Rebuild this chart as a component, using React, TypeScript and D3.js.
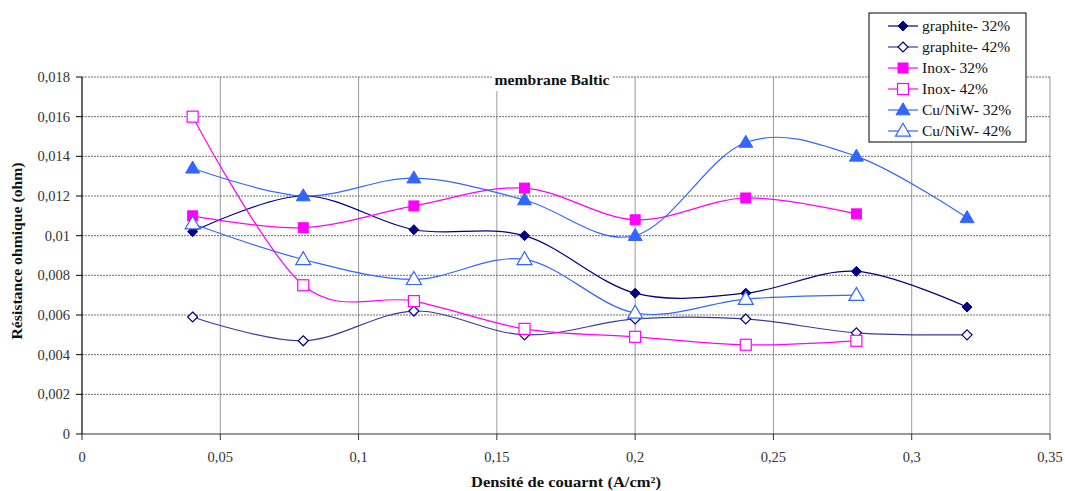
import React from 'react';
import * as d3 from 'd3';

const densities = [0.04, 0.08, 0.12, 0.16, 0.2, 0.24, 0.28, 0.32];
const graphite32 = [0.0102, 0.012, 0.0103, 0.01, 0.0071, 0.0071, 0.0082, 0.0064];
const graphite42 = [0.0059, 0.0047, 0.0062, 0.005, 0.0058, 0.0058, 0.0051, 0.005];
const inox32 = [0.011, 0.0104, 0.0115, 0.0124, 0.0108, 0.0119, 0.0111];
const inox42 = [0.016, 0.0075, 0.0067, 0.0053, 0.0049, 0.0045, 0.0047];
const cu32 = [0.0134, 0.012, 0.0129, 0.0118, 0.01, 0.0147, 0.014, 0.0109];
const cu42 = [0.0106, 0.0088, 0.0078, 0.0088, 0.0061, 0.0068, 0.007];

const seriesNames = ['graphite- 32%', 'graphite- 42%', 'Inox- 32%', 'Inox- 42%', 'Cu/NiW- 32%', 'Cu/NiW- 42%'];
const xTicks = [0, 0.05, 0.1, 0.15, 0.2, 0.25, 0.3, 0.35];
const yTicks = [0, 0.002, 0.004, 0.006, 0.008, 0.01, 0.012, 0.014, 0.016, 0.018];

const chartTitle = 'membrane Baltic';
const xTitle = 'Densité de couarnt (A/cm²)';
const yTitle = 'Résistance ohmique (ohm)';

type MarkerType = 'diamond' | 'square' | 'triangle';
interface Series {
  name: string;
  values: number[];
  line: string;
  color: string;
  marker: MarkerType;
  filled: boolean;
}

const series: Series[] = [
  { name: seriesNames[0], values: graphite32, line: '#000080', color: '#000080', marker: 'diamond', filled: true },
  { name: seriesNames[1], values: graphite42, line: '#3a3a9a', color: '#000080', marker: 'diamond', filled: false },
  { name: seriesNames[2], values: inox32, line: '#ff00ff', color: '#ff00ff', marker: 'square', filled: true },
  { name: seriesNames[3], values: inox42, line: '#ff00ff', color: '#ff00ff', marker: 'square', filled: false },
  { name: seriesNames[4], values: cu32, line: '#3366ff', color: '#3366ff', marker: 'triangle', filled: true },
  { name: seriesNames[5], values: cu42, line: '#3366ff', color: '#3366ff', marker: 'triangle', filled: false },
];

const fmt = (v: number) => String(+v.toFixed(3)).replace('.', ',');
const FONT = '"Liberation Serif", "Times New Roman", serif';

function Marker({ type, filled, color, cx, cy }: { type: MarkerType; filled: boolean; color: string; cx: number; cy: number }) {
  const fill = filled ? color : '#ffffff';
  const sw = filled ? 1 : 1.2;
  if (type === 'diamond') {
    const r = 5;
    const d = `M${cx},${cy - r}L${cx + r},${cy}L${cx},${cy + r}L${cx - r},${cy}Z`;
    return <path d={d} fill={fill} stroke={color} strokeWidth={sw} />;
  }
  if (type === 'square') {
    const h = filled ? 5 : 5.5;
    return <rect x={cx - h} y={cy - h} width={2 * h} height={2 * h} fill={fill} stroke={color} strokeWidth={sw} />;
  }
  const w = filled ? 7 : 7.5;
  const ht = filled ? 12 : 13;
  const d = `M${cx},${cy - ht * 0.6}L${cx + w},${cy + ht * 0.4}L${cx - w},${cy + ht * 0.4}Z`;
  return <path d={d} fill={fill} stroke={color} strokeWidth={sw} />;
}

export default function App() {
  const left = 82, right = 1050, top = 77, bottom = 434;
  const x = d3.scaleLinear().domain([0, 0.35]).range([left, right]);
  const y = d3.scaleLinear().domain([0, 0.018]).range([bottom, top]);
  const line = d3
    .line<[number, number]>()
    .x((d) => x(d[0]))
    .y((d) => y(d[1]))
    .curve(d3.curveCatmullRom.alpha(0));

  const legendX = 869, legendY = 13, legendW = 157, legendH = 129;
  const rowY = (i: number) => legendY + 13 + i * 21;
  const txt = { fontFamily: FONT };

  return (
    <svg width={1065} height={491} style={{ position: 'absolute', left: 0, top: 0, background: '#fff', fontFamily: FONT }}>
      <rect x={0} y={0} width={1065} height={491} fill="#ffffff" />
      {xTicks.slice(1).map((t) => (
        <line key={'vx' + t} x1={x(t)} x2={x(t)} y1={top} y2={bottom} stroke="#9a9a9a" strokeWidth={1} />
      ))}
      {yTicks.slice(1).map((t) => (
        <line key={'hy' + t} x1={left} x2={right} y1={y(t)} y2={y(t)} stroke="#6e6e6e" strokeWidth={1} strokeDasharray="2 1" />
      ))}
      <line x1={left} x2={left} y1={top} y2={bottom} stroke="#000" strokeWidth={1.2} />
      <line x1={left} x2={right} y1={bottom} y2={bottom} stroke="#333" strokeWidth={1.2} />
      {yTicks.map((t) => (
        <g key={'yt' + t}>
          <line x1={left - 6} x2={left} y1={y(t)} y2={y(t)} stroke="#000" />
          <text x={70} y={y(t) + 5} textAnchor="end" fontSize={14.5} fill="#333" style={txt}>
            {fmt(t)}
          </text>
        </g>
      ))}
      {xTicks.map((t) => (
        <g key={'xt' + t}>
          <line x1={x(t)} x2={x(t)} y1={bottom} y2={bottom + 6} stroke="#333" />
          <text x={x(t)} y={462} textAnchor="middle" fontSize={14.5} fill="#333" style={txt}>
            {fmt(t)}
          </text>
        </g>
      ))}
      <text x={566} y={487} textAnchor="middle" fontSize={14} fontWeight="bold" fill="#111" textLength={190} lengthAdjust="spacingAndGlyphs" style={txt}>
        {xTitle}
      </text>
      <text
        transform={`translate(22,251) rotate(-90)`}
        textAnchor="middle"
        fontSize={14}
        fontWeight="bold"
        fill="#111"
        textLength={177}
        lengthAdjust="spacingAndGlyphs"
        style={txt}
      >
        {yTitle}
      </text>
      {series.map((s) => {
        const pts: [number, number][] = s.values.map((v, i) => [densities[i], v]);
        return (
          <g key={s.name}>
            <path d={line(pts) || ''} fill="none" stroke={s.line} strokeWidth={1.2} />
            {pts.map((p, i) => (
              <Marker key={i} type={s.marker} filled={s.filled} color={s.color} cx={x(p[0])} cy={y(p[1])} />
            ))}
          </g>
        );
      })}
      <rect x={493} y={70} width={119} height={21} fill="#ffffff" />
      <text x={552} y={85} textAnchor="middle" fontSize={14} fontWeight="bold" fill="#111" textLength={115} lengthAdjust="spacingAndGlyphs" style={txt}>
        {chartTitle}
      </text>
      <rect x={legendX} y={legendY} width={legendW} height={legendH} fill="#ffffff" stroke="#000" strokeWidth={1} />
      {series.map((s, i) => (
        <g key={'lg' + s.name}>
          <line x1={888} x2={918} y1={rowY(i)} y2={rowY(i)} stroke={s.line} strokeWidth={1.2} />
          <Marker type={s.marker} filled={s.filled} color={s.color} cx={903} cy={rowY(i)} />
          <text x={922} y={rowY(i) + 5} fontSize={15.5} fill="#111" style={txt}>
            {s.name}
          </text>
        </g>
      ))}
    </svg>
  );
}
